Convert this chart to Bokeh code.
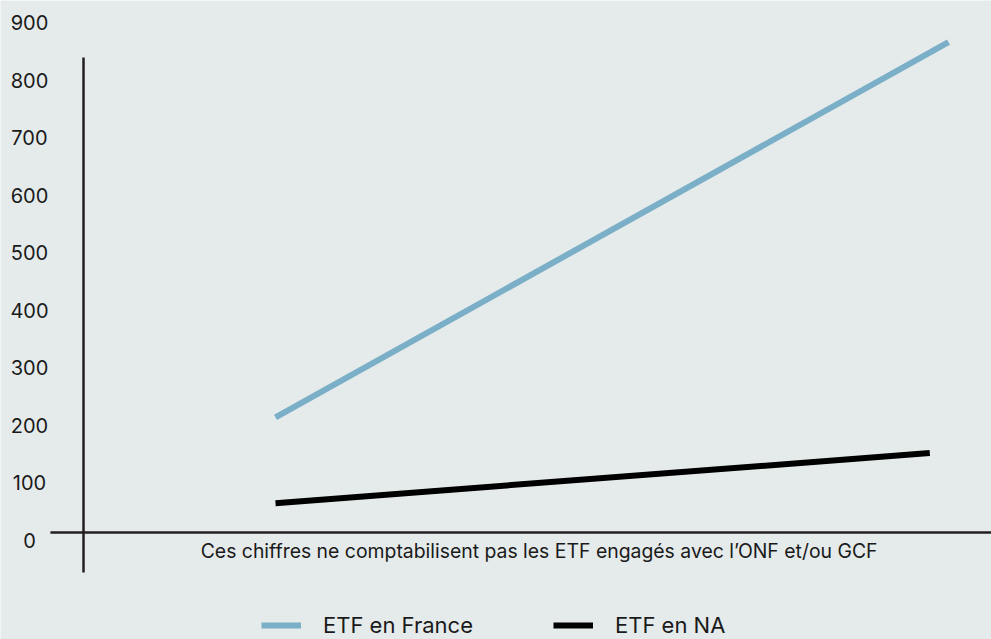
from bokeh.plotting import figure
from bokeh.models import Range1d, Legend, LegendItem
from bokeh.embed import file_html
from bokeh.resources import INLINE
from bokeh.core.properties import value

# ---- data ----
months_france = [0, 36]
etf_france = [200, 852]
months_na = [0, 35]
etf_na = [51, 138]
y_ticks = [0, 100, 200, 300, 400, 500, 600, 700, 800, 900]
y_tick_labels = [str(t) for t in y_ticks]
series_names = ["ETF en France", "ETF en NA"]
footnote = "Ces chiffres ne comptabilisent pas les ETF engagés avec l\u2019ONF et/ou GCF"

# ---- styles ----
BG = "#e5ebeb"
BLUE = "#7aafc7"
BLACK = "#000000"
AXIS = "#231f20"
TEXT = "#1a1a1a"
FONT_NAME = "Inter"
FONT = value(FONT_NAME)

p = figure(width=991, height=639,
           x_range=Range1d(-14.71, 38.30), y_range=Range1d(-185.9, 924.3),
           min_border=0, toolbar_location=None, output_backend="svg",
           x_axis_location=None, y_axis_location=None,
           background_fill_color=BG, border_fill_color=BG,
           outline_line_color=None)
p.grid.visible = False

# axis lines
p.segment(x0=[-10.27], y0=[-69.5], x1=[-10.27], y1=[825.2],
          line_color=AXIS, line_width=2.5)
p.segment(x0=[-12.04], y0=[0], x1=[39.0], y1=[0],
          line_color=AXIS, line_width=2.5)

# data lines
r1 = p.line(months_france, etf_france, line_color=BLUE, line_width=6)
r2 = p.line(months_na, etf_na, line_color=BLACK, line_width=6)

# y tick labels
p.text(x=[-13.16] * len(y_ticks), y=y_ticks, text=y_tick_labels,
       text_align="center", text_baseline="middle", y_offset=8,
       text_font=FONT, text_font_size="20px", text_color=TEXT)

# footnote
p.text(x=[14.1], y=[-31.3], text=[footnote],
       text_align="center", text_baseline="middle",
       text_font=FONT, text_font_size="19.4px", text_color=TEXT)

legend = Legend(items=[LegendItem(label=series_names[0], renderers=[r1]),
                       LegendItem(label=series_names[1], renderers=[r2])],
                orientation="horizontal", location=(261, 1),
                padding=0, margin=0, spacing=80,
                glyph_width=40, glyph_height=20, label_standoff=22,
                label_height=20,
                label_text_font=FONT_NAME, label_text_font_size="22px",
                label_text_color=TEXT,
                background_fill_alpha=0, border_line_color=None)
p.add_layout(legend)

html = file_html(p, INLINE)
html = html.replace("<body>", '<body style="background-color:%s;">' % BG, 1)
open("out.html", "w").write(html)
